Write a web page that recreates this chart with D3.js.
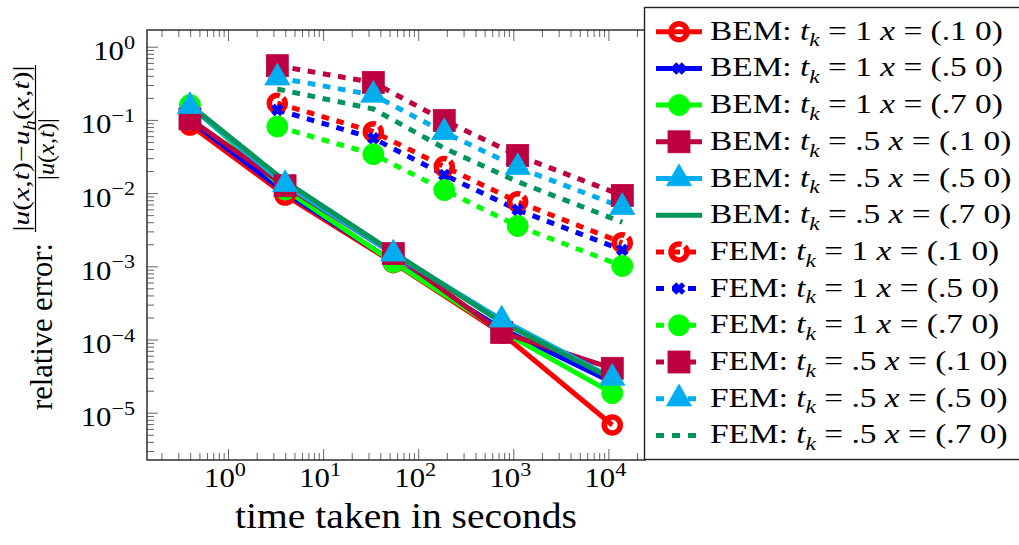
<!DOCTYPE html>
<html>
<head>
<meta charset="utf-8">
<script src="https://cdn.jsdelivr.net/npm/d3@7"></script>
<style>
  body { margin: 0; background: #fff; }
  svg { display: block; }
  text { font-family: "Liberation Serif", "DejaVu Serif", serif; fill: #000; white-space: pre; }
</style>
</head>
<body>
<svg id="chart" width="1019" height="545"></svg>
<script>
// ---- data ---------------------------------------------------------------
// wall-clock time (s) of the successive refinement levels
const bemTimes = [0.398, 3.98, 54.7, 755, 10990];
const femTimes = [3.30, 33.7, 188, 1112, 14000];

// relative error at the evaluation point, BEM
const bemT1X1  = [0.085, 0.0094, 0.00112, 0.000122, 6.8e-6];
const bemT1X5  = [0.098, 0.0102, 0.00116, 0.000140, 2.6e-5];
const bemT1X7  = [0.160, 0.0112, 0.00114, 0.000130, 1.85e-5];
const bemT05X1 = [0.103, 0.0126, 0.00149, 0.000125, 4.04e-5];
const bemT05X5 = [0.153, 0.0132, 0.00148, 0.000186, 2.98e-5];
const bemT05X7 = [0.160, 0.0145, 0.00155, 0.000172, 2.9e-5];

// relative error at the evaluation point, FEM
const femT1X1  = [0.169, 0.069, 0.023, 0.0076, 0.0021];
const femT1X5  = [0.137, 0.056, 0.0177, 0.0059, 0.00167];
const femT1X7  = [0.081, 0.034, 0.011, 0.00355, 0.00101];
const femT05X1 = [0.55, 0.324, 0.098, 0.0326, 0.00927];
const femT05X5 = [0.377, 0.219, 0.0676, 0.0225, 0.0064];
const femT05X7 = [0.264, 0.141, 0.041, 0.0143, 0.0040];

// legend text pieces
const methods = ["BEM", "BEM", "BEM", "BEM", "BEM", "BEM", "FEM", "FEM", "FEM", "FEM", "FEM", "FEM"];
const tkLabels = ["1", "1", "1", ".5", ".5", ".5", "1", "1", "1", ".5", ".5", ".5"];
const xLabels = ["(.1 0)", "(.5 0)", "(.7 0)", "(.1 0)", "(.5 0)", "(.7 0)",
                 "(.1 0)", "(.5 0)", "(.7 0)", "(.1 0)", "(.5 0)", "(.7 0)"];

// axis ticks (decade exponents)
const xTickExps = [0, 1, 2, 3, 4];
const yTickExps = [0, -1, -2, -3, -4, -5];

// ---- styles -------------------------------------------------------------
const palette = {
  red: "#ff0000", blue: "#0000ff", green: "#00ff00",
  purple: "#bd0041", cyan: "#00aeef", forest: "#00965a"
};

const series = [
  { times: bemTimes, values: bemT1X1,  color: palette.red,    mark: "ring",     dashed: false },
  { times: bemTimes, values: bemT1X5,  color: palette.blue,   mark: "cross",    dashed: false },
  { times: bemTimes, values: bemT1X7,  color: palette.green,  mark: "disc",     dashed: false },
  { times: bemTimes, values: bemT05X1, color: palette.purple, mark: "square",   dashed: false },
  { times: bemTimes, values: bemT05X5, color: palette.cyan,   mark: "triangle", dashed: false },
  { times: bemTimes, values: bemT05X7, color: palette.forest, mark: null,       dashed: false },
  { times: femTimes, values: femT1X1,  color: palette.red,    mark: "ring",     dashed: true },
  { times: femTimes, values: femT1X5,  color: palette.blue,   mark: "cross",    dashed: true },
  { times: femTimes, values: femT1X7,  color: palette.green,  mark: "disc",     dashed: true },
  { times: femTimes, values: femT05X1, color: palette.purple, mark: "square",   dashed: true },
  { times: femTimes, values: femT05X5, color: palette.cyan,   mark: "triangle", dashed: true },
  { times: femTimes, values: femT05X7, color: palette.forest, mark: null,       dashed: true }
];
series.forEach((s, i) => { s.method = methods[i]; s.tk = tkLabels[i]; s.pt = xLabels[i]; });

const DASH = "7.7 7.7";
const LINE_W = 5;

// ---- layout -------------------------------------------------------------
const svg = d3.select("#chart");
const plot = { left: 147, right: 645, top: 30, bottom: 460 };

const x = d3.scaleLog()
  .domain([Math.pow(10, -0.852), Math.pow(10, 4.385)])
  .range([plot.left, plot.right]);
const y = d3.scaleLog()
  .domain([Math.pow(10, -5.646), Math.pow(10, 0.228)])
  .range([plot.bottom, plot.top]);

function minorTicks(scale) {
  const [lo, hi] = scale.domain();
  const out = [];
  for (let e = Math.floor(Math.log10(lo)); e <= Math.ceil(Math.log10(hi)); e++) {
    for (let m = 2; m <= 9; m++) {
      const v = m * Math.pow(10, e);
      if (v > lo && v < hi) out.push(v);
    }
  }
  return out;
}

const xMajor = xTickExps.map(e => Math.pow(10, e));
const yMajor = yTickExps.map(e => Math.pow(10, e));

// ticks point inwards, on bottom/top/left
function tickLayer(axis, tx, ty) {
  const g = svg.append("g").attr("transform", `translate(${tx},${ty})`).call(axis);
  g.select(".domain").remove();
  g.selectAll(".tick line").attr("stroke", "#666").attr("stroke-width", 1);
  g.selectAll(".tick text").remove();
  return g;
}
tickLayer(d3.axisBottom(x).tickValues(minorTicks(x)).tickSize(-7).tickFormat(""), 0, plot.bottom);
tickLayer(d3.axisBottom(x).tickValues(xMajor).tickSize(-11).tickFormat(""), 0, plot.bottom);
tickLayer(d3.axisTop(x).tickValues(minorTicks(x)).tickSize(-7).tickFormat(""), 0, plot.top);
tickLayer(d3.axisTop(x).tickValues(xMajor).tickSize(-11).tickFormat(""), 0, plot.top);
tickLayer(d3.axisLeft(y).tickValues(minorTicks(y)).tickSize(-7).tickFormat(""), plot.left, 0);
tickLayer(d3.axisLeft(y).tickValues(yMajor).tickSize(-11).tickFormat(""), plot.left, 0);

// ---- math-ish text helper -------------------------------------------------
// pieces: [text, kind] with kind in r (roman), i (italic), sub, sup
function mathText(parent, pieces, size) {
  const t = parent.append("text").attr("font-size", size);
  let shift = 0;
  pieces.forEach(([str, kind]) => {
    const ts = t.append("tspan").text(str);
    let target = 0;
    if (kind === "i" || kind === "sub") ts.attr("font-style", "italic");
    if (kind === "sub") { ts.attr("font-size", size * 0.7); target = size * 0.25; }
    if (kind === "sup") { ts.attr("font-size", size * 0.72); target = -size * 0.42; }
    if (target !== shift) { ts.attr("dy", target - shift); shift = target; }
  });
  return t;
}

function powerLabel(parent, e, size) {
  const exp = e < 0 ? "\u2212" + Math.abs(e) : String(e);
  return mathText(parent, [["10", "r"], [exp, "sup"]], size);
}

// x tick labels
xTickExps.forEach(e => {
  const g = svg.append("g").attr("transform", `translate(${x(Math.pow(10, e)) - 3},487) scale(1.14,1)`);
  powerLabel(g, e, 27).attr("text-anchor", "middle");
});
// y tick labels
yTickExps.forEach(e => {
  const g = svg.append("g").attr("transform", `translate(135,${y(Math.pow(10, e)) + 13.5}) scale(1.14,1)`);
  powerLabel(g, e, 27).attr("text-anchor", "end");
});

// horizontal stretch factor that brings a text to a given width
function fitWidth(textSel, width) {
  return width / textSel.node().getComputedTextLength();
}

// x axis title
{
  const g = svg.append("g");
  const t = g.append("text").attr("font-size", 36).attr("text-anchor", "middle").text("time taken in seconds");
  g.attr("transform", `translate(406,528) scale(${fitWidth(t, 342)},1)`);
}

// y axis title (rotated): "relative error:" followed by a fraction
{
  const g1 = svg.append("g");
  const t1 = g1.append("text").attr("font-size", 31).text("relative error:");
  g1.attr("transform", `translate(52,410) rotate(-90) scale(${fitWidth(t1, 167)},1)`);

  const num = [["|", "r"], ["u", "i"], ["(", "r"], ["x", "i"], [",", "r"], ["t", "i"], [")\u2212", "r"],
               ["u", "i"], ["h", "sub"], ["(", "r"], ["x", "i"], [",", "r"], ["t", "i"], [")|", "r"]];
  const g2 = svg.append("g");
  const t2 = mathText(g2, num, 23).attr("text-anchor", "middle");
  g2.attr("transform", `translate(29,148.5) rotate(-90) scale(${fitWidth(t2, 166)},1)`);

  const den = [["|", "r"], ["u", "i"], ["(", "r"], ["x", "i"], [",", "r"], ["t", "i"], [")|", "r"]];
  const g3 = svg.append("g");
  const t3 = mathText(g3, den, 23).attr("text-anchor", "middle");
  g3.attr("transform", `translate(54,149) rotate(-90) scale(${fitWidth(t3, 62)},1)`);

  svg.append("line").attr("x1", 35.5).attr("x2", 35.5).attr("y1", 65).attr("y2", 232)
    .attr("stroke", "#000").attr("stroke-width", 1.2);
}

// ---- markers ------------------------------------------------------------
function drawMark(g, kind, color, dashed) {
  if (kind === "ring") {
    g.append("circle").attr("r", 8).attr("fill", "none").attr("stroke", color).attr("stroke-width", 5.5)
      .attr("stroke-dasharray", dashed ? "40 4" : null);
  } else if (kind === "cross") {
    g.append("path").attr("d", "M-4.5,-4.5L4.5,4.5M-4.5,4.5L4.5,-4.5")
      .attr("fill", "none").attr("stroke", color).attr("stroke-width", 5);
  } else if (kind === "disc") {
    g.append("circle").attr("r", 10.5).attr("fill", color).attr("stroke", color).attr("stroke-width", 1);
  } else if (kind === "square") {
    g.append("rect").attr("x", -11).attr("y", -11).attr("width", 22).attr("height", 22)
      .attr("fill", color).attr("stroke", color).attr("stroke-width", 0.8);
  } else if (kind === "triangle") {
    g.append("path").attr("d", "M0,-14.5L12.56,7.25L-12.56,7.25Z")
      .attr("fill", color).attr("stroke", color).attr("stroke-width", 0.8);
  }
}

// ---- data lines and marks ----------------------------------------------------
const line = d3.line().x(d => x(d.t)).y(d => y(d.v));
const pts = s => s.times.map((t, i) => ({ t, v: s.values[i] }));

const lines = svg.append("g");
series.forEach(s => {
  lines.append("path").datum(pts(s)).attr("d", line)
    .attr("fill", "none").attr("stroke", s.color).attr("stroke-width", LINE_W)
    .attr("stroke-linejoin", "miter").attr("stroke-dasharray", s.dashed ? DASH : null);
});
const marks = svg.append("g");
series.forEach(s => {
  if (!s.mark) return;
  pts(s).forEach(d => {
    const g = marks.append("g").attr("transform", `translate(${x(d.t)},${y(d.v)})`);
    drawMark(g, s.mark, s.color, s.dashed);
  });
});

// frame
svg.append("rect").attr("x", plot.left).attr("y", plot.top)
  .attr("width", plot.right - plot.left).attr("height", plot.bottom - plot.top)
  .attr("fill", "none").attr("stroke", "#222").attr("stroke-width", 1.4);

// ---- legend ---------------------------------------------------------------
const legend = svg.append("g");
legend.append("rect").attr("x", 644.5).attr("y", 7.5).attr("width", 420).attr("height", 452)
  .attr("fill", "#fff").attr("stroke", "#222").attr("stroke-width", 1.4);

const rowY = i => 31.7 + i * 36.7;
let legendScale = null;
series.forEach((s, i) => {
  const cy = rowY(i);
  legend.append("line").attr("x1", 656).attr("x2", 702).attr("y1", cy).attr("y2", cy)
    .attr("stroke", s.color).attr("stroke-width", LINE_W)
    .attr("stroke-dasharray", s.dashed ? "8 8" : null);
  if (s.mark) {
    const g = legend.append("g").attr("transform", `translate(679,${cy})`);
    drawMark(g, s.mark, s.color, s.dashed);
  }
  const g = legend.append("g");
  const t = mathText(g, [[s.method + ": ", "r"], ["t", "i"], ["k", "sub"], [" = " + s.tk + " ", "r"],
                         ["x", "i"], [" = " + s.pt, "r"]], 27);
  if (legendScale === null) legendScale = fitWidth(t, 293);
  g.attr("transform", `translate(710,${cy + 8}) scale(${legendScale},1)`);
});
</script>
</body>
</html>
